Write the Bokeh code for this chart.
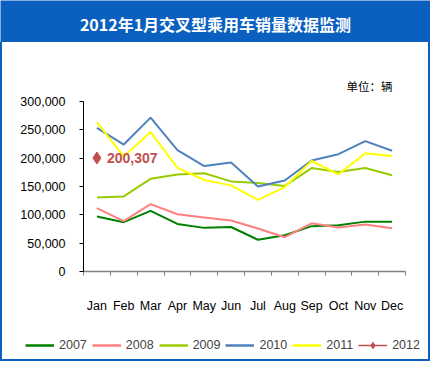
from bokeh.plotting import figure
from bokeh.models import (FixedTicker, NumeralTickFormatter, Legend, LegendItem,
                          Range1d, Title)
from bokeh.layouts import column
from bokeh.core.properties import value
from bokeh.embed import file_html
from bokeh.resources import INLINE

months = ["Jan", "Feb", "Mar", "Apr", "May", "Jun",
          "Jul", "Aug", "Sep", "Oct", "Nov", "Dec"]
years = ["2007", "2008", "2009", "2010", "2011"]
s2007 = [97000, 87000, 107000, 84000, 77000, 78500, 56000, 64000, 80000, 81500, 88000, 88000]
s2008 = [112000, 89000, 119000, 101000, 95500, 90000, 76000, 60500, 85000, 77500, 83000, 76500]
s2009 = [130500, 132500, 163500, 171000, 173500, 159000, 156000, 151000, 182500, 175500, 182500, 170000]
s2010 = [253500, 224000, 271500, 214000, 186000, 192500, 150000, 160500, 196000, 207000, 230000, 213000]
s2011 = [263000, 203000, 246000, 183000, 161500, 152000, 126500, 149000, 195000, 171500, 208500, 204000]
s2012 = [200307]
y_ticks = [0, 50000, 100000, 150000, 200000, 250000, 300000]
title_text = "2012年1月交叉型乘用车销量数据监测"
unit_text = "单位：辆"

series = [s2007, s2008, s2009, s2010, s2011]
colors = ["#008000", "#FF8080", "#99CC00", "#4F81BD", "#FFFF00"]
c2012 = "#C0504D"
blue = "#0A5FBF"

W = 430
TH = 42          # title bar height
MH = 278         # main figure height
LH = 361 - TH - MH  # legend strip height
FL, FR = 83, 25
FT = 59
FB = 49

side_shadow = f"inset 2px 0 0 0 {blue}, inset -2px 0 0 0 {blue}"

# ---- title bar ----
t = figure(width=W, height=TH, output_backend="svg", toolbar_location=None,
           x_range=Range1d(0, 1), y_range=Range1d(0, 1),
           x_axis_type=None, y_axis_type=None, min_border=0, frame_align=False)
t.grid.visible = False
t.outline_line_color = None
t.background_fill_color = blue
t.border_fill_color = blue
t.text([0.5], [0.45], text=[title_text], text_align="center", text_baseline="middle",
       text_color="white", text_font=value("Noto Sans CJK SC"),
       text_font_style="bold", text_font_size="16px")

# ---- main chart ----
p = figure(width=W, height=MH, output_backend="svg", toolbar_location=None,
           x_range=Range1d(0.5, 12.5), y_range=Range1d(0, 300000),
           min_border_left=FL, min_border_right=FR, min_border_top=FT,
           min_border_bottom=FB, frame_align=False,
           styles={"box-shadow": side_shadow, "background-color": "white"})
p.grid.visible = False
p.outline_line_color = None
p.background_fill_color = "white"
p.border_fill_alpha = 0
p.add_layout(Title(text=unit_text, align="right", offset=13, text_font="Noto Sans CJK SC",
                   text_font_size="11.5px", text_font_style="normal",
                   text_color="black", standoff=16), "above")

xs = list(range(1, 13))
ax = p.xaxis[0]
ax.ticker = FixedTicker(ticks=xs, minor_ticks=[i + 0.5 for i in range(0, 13)])
ax.major_label_overrides = {i: m for i, m in zip(xs, months)}
ax.major_tick_line_color = None
ax.major_tick_out = 0
ax.major_tick_in = 0
ax.minor_tick_line_color = "#808080"
ax.minor_tick_out = 4
ax.minor_tick_in = 0
ax.axis_line_color = "#808080"
ax.axis_line_width = 1.5
ax.major_label_standoff = 23
ax.major_label_text_font = "Liberation Sans"
ax.major_label_text_font_size = "12.5px"
ax.major_label_text_color = "black"

ay = p.yaxis[0]
ay.ticker = FixedTicker(ticks=y_ticks, minor_ticks=[])
ay.formatter = NumeralTickFormatter(format="0,0")
ay.axis_line_color = "black"
ay.major_tick_line_color = "black"
ay.major_tick_out = 4
ay.major_tick_in = 0
ay.minor_tick_line_color = None
ay.major_label_standoff = 14
ay.major_label_text_font = "Liberation Sans"
ay.major_label_text_font_size = "12.5px"
ay.major_label_text_color = "black"

for s, c in zip(series, colors):
    p.line(xs, s, line_color=c, line_width=2)

x12 = xs[:len(s2012)]
p.scatter(x12, s2012, marker="diamond", size=12, fill_color=c2012, line_color=c2012)
p.text(x12, s2012, text=[f"{v:,}" for v in s2012], x_offset=10, text_baseline="middle",
       text_align="left", text_color=c2012, text_font=value("Liberation Sans"),
       text_font_style="bold", text_font_size="14px")

# ---- legend strip ----
lg = figure(width=W, height=LH, output_backend="svg", toolbar_location=None,
            x_range=Range1d(100, 101), y_range=Range1d(0, 1), title=None,
            x_axis_type=None, y_axis_type=None, min_border=0, frame_align=False,
            styles={"box-shadow": side_shadow + f", inset 0 -2px 0 0 {blue}",
                    "background-color": "white"})
lg.grid.visible = False
lg.outline_line_color = None
lg.background_fill_alpha = 0
lg.border_fill_alpha = 0
items = []
for yr, s, c in zip(years, series, colors):
    r = lg.line(xs, s, line_color=c, line_width=2.5)
    items.append(LegendItem(label=yr, renderers=[r]))
rl = lg.line(x12, s2012, line_color=c2012, line_width=1.5)
rs = lg.scatter(x12, s2012, marker="diamond", size=11, fill_color=c2012, line_color=c2012)
items.append(LegendItem(label="2012", renderers=[rl, rs]))
legend = Legend(items=items, orientation="horizontal", location=(25, LH - 33),
                padding=0, margin=0, spacing=5, glyph_width=29, glyph_height=16,
                label_height=16, label_standoff=5, border_line_color=None,
                background_fill_alpha=0, label_text_font="Liberation Sans",
                label_text_font_size="12.5px")
lg.add_layout(legend, "center")

layout = column(t, p, lg, spacing=0)

open("out.html", "w").write(file_html(layout, INLINE))
